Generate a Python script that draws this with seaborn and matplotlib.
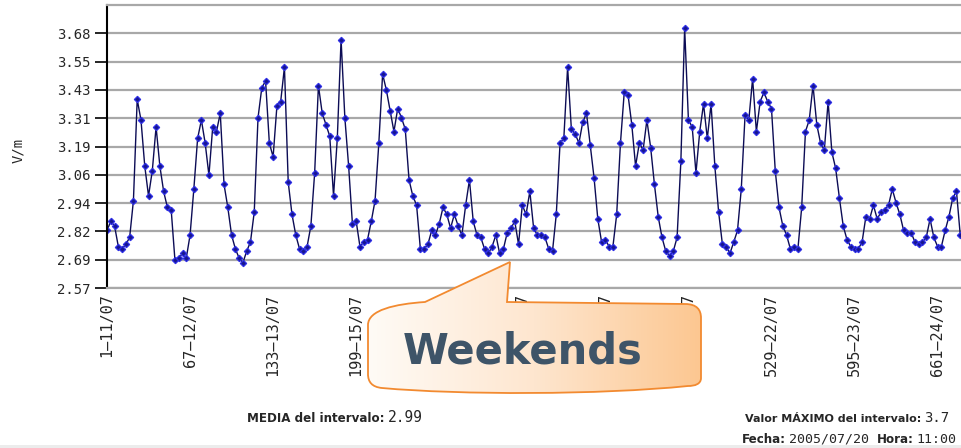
import numpy as np
import matplotlib
matplotlib.use("Agg")
import matplotlib.pyplot as plt
from matplotlib.path import Path
from matplotlib.patches import PathPatch, Rectangle
from matplotlib.colors import LinearSegmentedColormap
import seaborn as sns

# valores de campo (V/m), una muestra cada 3 registros, un dia = 22 muestras
dia1 = [2.82, 2.86, 2.84, 2.75, 2.74, 2.76, 2.79, 2.95, 3.39, 3.30, 3.10, 2.97, 3.08, 3.27, 3.10, 2.99, 2.92, 2.91, 2.69, 2.70, 2.72, 2.70]
dia2 = [2.80, 3.00, 3.22, 3.30, 3.20, 3.06, 3.27, 3.25, 3.33, 3.02, 2.92, 2.80, 2.74, 2.70, 2.68, 2.73, 2.77, 2.90, 3.31, 3.44, 3.47, 3.20]
dia3 = [3.14, 3.36, 3.38, 3.53, 3.03, 2.89, 2.80, 2.74, 2.73, 2.75, 2.84, 3.07, 3.45, 3.33, 3.28, 3.23, 2.97, 3.22, 3.65, 3.31, 3.10, 2.85]
dia4 = [2.86, 2.75, 2.77, 2.78, 2.86, 2.95, 3.20, 3.50, 3.43, 3.34, 3.25, 3.35, 3.31, 3.26, 3.04, 2.97, 2.93, 2.74, 2.74, 2.76, 2.82, 2.80]
dia5 = [2.85, 2.92, 2.89, 2.83, 2.89, 2.84, 2.80, 2.93, 3.04, 2.86, 2.80, 2.79, 2.74, 2.72, 2.75, 2.80, 2.72, 2.74, 2.81, 2.83, 2.86, 2.76]
dia6 = [2.93, 2.89, 2.99, 2.83, 2.80, 2.80, 2.79, 2.74, 2.73, 2.89, 3.20, 3.22, 3.53, 3.26, 3.24, 3.20, 3.29, 3.33, 3.19, 3.05, 2.87, 2.77]
dia7 = [2.78, 2.75, 2.75, 2.89, 3.20, 3.42, 3.41, 3.28, 3.10, 3.20, 3.17, 3.30, 3.18, 3.02, 2.88, 2.79, 2.73, 2.71, 2.73, 2.79, 3.12, 3.70]
dia8 = [3.30, 3.27, 3.07, 3.25, 3.37, 3.22, 3.37, 3.10, 2.90, 2.76, 2.75, 2.72, 2.77, 2.82, 3.00, 3.32, 3.30, 3.48, 3.25, 3.38, 3.42, 3.38]
dia9 = [3.35, 3.08, 2.92, 2.84, 2.80, 2.74, 2.75, 2.74, 2.92, 3.25, 3.30, 3.45, 3.28, 3.20, 3.17, 3.38, 3.16, 3.09, 2.96, 2.84, 2.78, 2.75]
dia10 = [2.74, 2.74, 2.77, 2.88, 2.87, 2.93, 2.87, 2.90, 2.91, 2.93, 3.00, 2.94, 2.89, 2.82, 2.81, 2.81, 2.77, 2.76, 2.77, 2.79, 2.87, 2.79]
dia11 = [2.75, 2.75, 2.82, 2.88, 2.96, 2.99, 2.80]

xtick_pos = [1, 67, 133, 199, 265, 331, 397, 463, 529, 595, 661]
xtick_lbl = ["1–11/07", "67–12/07", "133–13/07", "199–15/07", "265–16/07", "331–17/07",
             "397–18/07", "463–20/07", "529–22/07", "595–23/07", "661–24/07"]
ytick_lbl = ["2.57", "2.69", "2.82", "2.94", "3.06", "3.19", "3.31", "3.43", "3.55", "3.68"]

valores = dia1 + dia2 + dia3 + dia4 + dia5 + dia6 + dia7 + dia8 + dia9 + dia10 + dia11
registro = [1 + 3 * k for k in range(len(valores))]

sns.set_style("white")
plt.rcParams["font.family"] = ["DejaVu Sans"]

W, H = 961, 448
fig = plt.figure(figsize=(W / 100, H / 100), dpi=100)
fig.patch.set_facecolor("white")

x0, x1, ytop, ybot = 107, 961, 5, 288
ax = fig.add_axes([x0 / W, (H - ybot) / H, (x1 - x0) / W, (ybot - ytop) / H])

sns.lineplot(x=registro, y=valores, ax=ax, color="#0c0c55", linewidth=1.0,
             marker="D", markersize=3.2, markerfacecolor="#16168e",
             markeredgecolor="#2e2ee6", markeredgewidth=0.9)

ax.set_xlim(1, 1 + (x1 - x0) * 66 / 83.06)
ax.set_ylim(2.57, 3.80)
ypos = np.linspace(2.57, 3.80, 11)[:len(ytick_lbl)]
ax.set_yticks(ypos)
ax.set_yticklabels(ytick_lbl, family="DejaVu Sans Mono", fontsize=10)
ax.set_xticks(xtick_pos)
ax.set_xticklabels(xtick_lbl, rotation=90, family="DejaVu Sans Mono", fontsize=11)
ax.tick_params(axis="y", length=9, width=1.2, color="black", pad=3, left=True)
ax.tick_params(axis="x", length=0, pad=4)
ax.yaxis.grid(True, color="#a8a8a8", linewidth=1.6)
ax.set_axisbelow(True)
ax.set_xlabel("")
ax.set_ylabel("")
ax.spines["left"].set_color("black")
ax.spines["left"].set_linewidth(1.5)
ax.spines["bottom"].set_color("#a8a8a8")
ax.spines["bottom"].set_linewidth(1.6)
ax.spines["top"].set_color("#a8a8a8")
ax.spines["top"].set_linewidth(1.6)
ax.spines["right"].set_visible(False)

fig.text(18 / W, 1 - 150 / H, "V/m", rotation=90, ha="center", va="center",
         family="DejaVu Sans Mono", fontsize=10)

# capa superior en pixeles para el globo y los textos
ov = fig.add_axes([0, 0, 1, 1], facecolor="none")
ov.set_xlim(0, W)
ov.set_ylim(H, 0)
ov.axis("off")

ov.add_patch(Rectangle((0, 445), W, 3, color="#ececec", lw=0))

verts = [(425, 302), (510, 262), (507, 302), (685, 304),
         (697, 304), (701, 310), (701, 318),
         (701, 378),
         (701, 384), (695, 386), (688, 386),
         (600, 395), (460, 395), (382, 388),
         (372, 387), (368, 382), (368, 374),
         (368, 325),
         (368, 310), (395, 304), (425, 302),
         (425, 302)]
codes = [Path.MOVETO, Path.LINETO, Path.LINETO, Path.LINETO,
         Path.CURVE4, Path.CURVE4, Path.CURVE4,
         Path.LINETO,
         Path.CURVE4, Path.CURVE4, Path.CURVE4,
         Path.CURVE4, Path.CURVE4, Path.CURVE4,
         Path.CURVE4, Path.CURVE4, Path.CURVE4,
         Path.LINETO,
         Path.CURVE4, Path.CURVE4, Path.CURVE4,
         Path.CLOSEPOLY]
globo = PathPatch(Path(verts, codes), facecolor="none", edgecolor="#f28a30", lw=1.3, zorder=3)
ov.add_patch(globo)
cmap = LinearSegmentedColormap.from_list("glob", ["#fffbf6", "#fee6cf", "#fcc791"])
grad = ov.imshow(np.linspace(0, 1, 256).reshape(1, -1), cmap=cmap, aspect="auto",
                 extent=(368, 701, 396, 260), zorder=2)
grad.set_clip_path(globo)
ov.set_xlim(0, W)
ov.set_ylim(H, 0)
ov.text(523, 363, "Weekends", ha="center", va="baseline", fontsize=30,
        fontweight="bold", color="#3e5468", zorder=4)

# textos inferiores: (texto, izquierda, linea base, negrita, tamano)
pie = [("MEDIA del intervalo:", 247, 422, True, 8.6),
       ("2.99", 383, 422, False, 10.5),
       ("Valor MÁXIMO del intervalo:", 745, 422, True, 8.0),
       ("3.7", 923, 422, False, 10),
       ("Fecha:", 742, 443, True, 8.6),
       ("2005/07/20", 780, 443, False, 9.5),
       ("Hora:", 877, 443, True, 8.6),
       ("11:00", 913, 443, False, 9.5)]
renderer = fig.canvas.get_renderer()
fin = {}
for txt, xl, yb, negrita, fs in pie:
    kw = dict(fontweight="bold") if negrita else dict(family="DejaVu Sans Mono")
    x = max(xl, fin.get(yb, 0) + 3)
    t = ov.text(x, yb, txt, fontsize=fs, va="baseline", ha="left", **kw)
    fin[yb] = t.get_window_extent(renderer).x1

fig.savefig("out.png", dpi=100)
